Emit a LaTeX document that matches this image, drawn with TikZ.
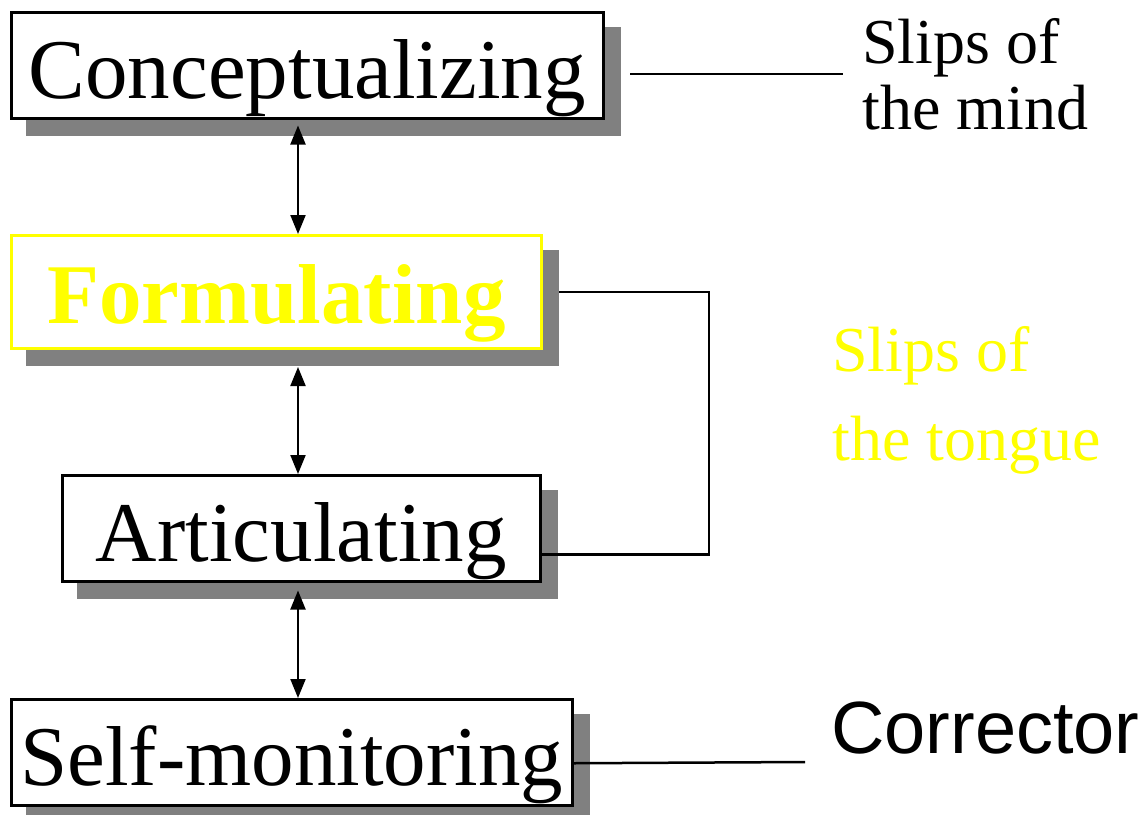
\documentclass[tikz,border=0pt]{standalone}
\usepackage{fontspec}
\setmainfont{Liberation Serif}
\newfontfamily\arialfont{Liberation Sans}
\usetikzlibrary{arrows.meta,backgrounds}
\definecolor{shadowgray}{HTML}{808080}
\definecolor{pureyellow}{HTML}{FFFF00}
\tikzset{
  stagebox/.style={draw=black, line width=2.5pt, fill=white, inner sep=0pt, anchor=north west,
    text height=86pt, text depth=20pt, font=\fontsize{85}{100}\selectfont},
  hotbox/.style={stagebox, draw=pureyellow, line width=3pt, text=pureyellow, text height=88pt, text depth=25pt,
    font=\fontsize{85}{100}\selectfont\bfseries},
  boxshadow/.style={fill=shadowgray},
  link/.style={line width=2.5pt},
  duplex/.style={line width=2pt, {Triangle[width=15pt,length=19pt]}-{Triangle[width=15pt,length=19pt]}},
  sidelabel/.style={font=\fontsize{64}{66}\selectfont, anchor=base west, inner sep=0pt},
  hotlabel/.style={sidelabel, text=pureyellow},
  corrlabel/.style={font=\fontsize{74}{80}\arialfont, anchor=base west, inner sep=0pt}
}
\begin{document}
\begin{tikzpicture}[x=1pt,y=-1pt]
\useasboundingbox (0,0) rectangle (1145,814);

% boxes
\node[stagebox, minimum width=592pt] (concept) at (10,11) {Conceptualizing};
\node[hotbox, minimum width=530pt] (formulating) at (10,234) {Formulating};
\node[stagebox, minimum width=478pt] (articulating) at (61,474) {Articulating};
\node[stagebox, minimum width=561pt] (selfmon) at (10,698) {Self-monitoring};

% shadows
\begin{scope}[on background layer]
  \foreach \b in {concept,formulating,articulating,selfmon}{
    \fill[boxshadow] ([shift={(16,16)}]\b.north west) rectangle ([shift={(16,16)}]\b.south east);
  }
\end{scope}

% side labels
\node[sidelabel] (mindA) at (862,63) {Slips of};
\node[sidelabel] (mindB) at (862,129) {the mind};
\node[hotlabel] (tongueA) at (832,371) {Slips of};
\node[hotlabel] (tongueB) at (832,460) {the tongue};
\node[corrlabel] (corrector) at (831,753) {Corrector};

% vertical double arrows
\coordinate (axis) at (298,0);
\draw[duplex] ([shift={(0,6)}]concept.south -| axis) -- (formulating.north -| axis);
\draw[duplex] ([shift={(0,17)}]formulating.south -| axis) -- (articulating.north -| axis);
\draw[duplex] ([shift={(0,8)}]articulating.south -| axis) -- (selfmon.north -| axis);

% connectors
\coordinate (mindStart) at (630,74);
\coordinate (mindEnd) at (843,74);
\draw[link] (mindStart) -- (mindEnd);

\coordinate (bend) at (709,400);
\draw[link] ([shift={(16,0)}]formulating.east) -| (bend) |- ([shift={(0,26)}]articulating.east);

\coordinate (corrEnd) at (805,762);
\draw[link] ([shift={(0,11)}]selfmon.east) -- (corrEnd);
\end{tikzpicture}
\end{document}
